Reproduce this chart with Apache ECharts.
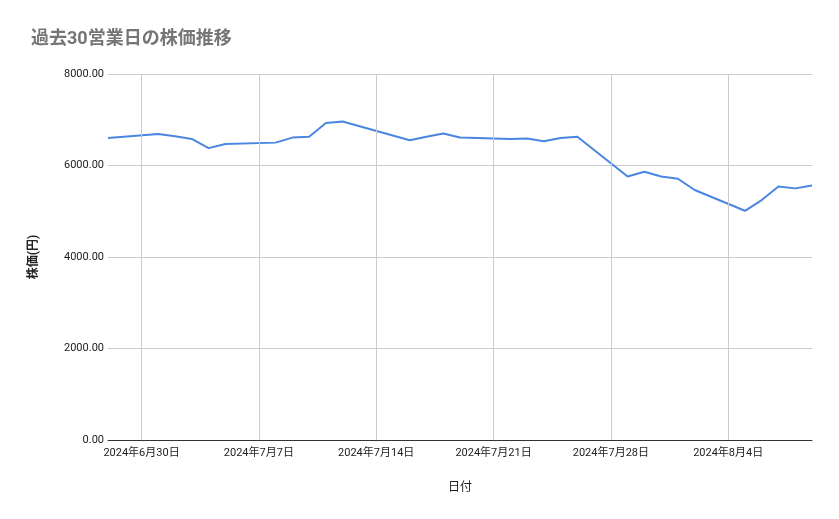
<!DOCTYPE html>
<html><head><meta charset="utf-8">
<script src="https://cdn.jsdelivr.net/npm/echarts@6/dist/echarts.min.js"></script>
<style>html,body{margin:0;background:#fff}#c{width:839px;height:519px}</style>
</head><body><div id="c"></div>
<script>
const dates = ["2024-06-28","2024-07-01","2024-07-02","2024-07-03","2024-07-04","2024-07-05","2024-07-08","2024-07-09","2024-07-10","2024-07-11","2024-07-12","2024-07-16","2024-07-17","2024-07-18","2024-07-19","2024-07-22","2024-07-23","2024-07-24","2024-07-25","2024-07-26","2024-07-29","2024-07-30","2024-07-31","2024-08-01","2024-08-02","2024-08-05","2024-08-06","2024-08-07","2024-08-08","2024-08-09"];
const prices = [6600,6690,6640,6580,6380,6470,6500,6610,6630,6930,6960,6550,6630,6700,6610,6580,6590,6530,6600,6630,5760,5865,5760,5710,5465,5010,5245,5540,5500,5565];
const tickDates = ["2024-06-30","2024-07-07","2024-07-14","2024-07-21","2024-07-28","2024-08-04"];
const yTicks = [0,2000,4000,6000,8000];

const base = Date.UTC(2024,5,28);
const dayOf = s => Math.round((Date.parse(s+"T00:00:00Z")-base)/86400000);
const fmt = s => { const d=new Date(s+"T00:00:00Z"); return d.getUTCFullYear()+"年"+(d.getUTCMonth()+1)+"月"+d.getUTCDate()+"日"; };
const tickVals = tickDates.map(dayOf);
const labelMap = {}; tickDates.forEach(s=>labelMap[dayOf(s)]=fmt(s));
const font = "Roboto, 'Noto Sans CJK JP', sans-serif";

const chart = echarts.init(document.getElementById('c'));
chart.setOption({
  animation:false,
  title:{text:'過去30営業日の株価推移',left:26,top:26,textStyle:{fontFamily:font,fontSize:18,fontWeight:'bold',color:'#757575'}},
  grid:{left:108,right:27,top:74,bottom:79},
  xAxis:{type:'value',min:0,max:dayOf("2024-08-09"),
    name:'日付',nameLocation:'middle',nameGap:42,nameTextStyle:{fontFamily:font,fontSize:12,color:'#222'},
    axisLine:{show:true,lineStyle:{color:'#333'}},axisTick:{show:false},splitLine:{show:false},
    axisLabel:{customValues:tickVals,formatter:v=>labelMap[v]||'',fontFamily:font,fontSize:11,color:'#222',margin:8}},
  yAxis:{type:'value',min:0,max:8000,interval:2000,
    name:'株価(円)',nameLocation:'middle',nameGap:68,nameRotate:90,nameTextStyle:{fontFamily:font,fontSize:12,fontWeight:'bold',color:'#222'},
    axisLine:{show:false},axisTick:{show:false},
    splitLine:{lineStyle:{color:'#cccccc'}},
    axisLabel:{formatter:v=>v.toFixed(2),fontFamily:font,fontSize:11,color:'#222',margin:4}},
  series:[{type:'line',data:dates.map((d,i)=>[dayOf(d),prices[i]]),showSymbol:false,
    lineStyle:{color:'#4a86e0',width:2},itemStyle:{color:'#4a86e0'},
    markLine:{silent:true,symbol:'none',label:{show:false},lineStyle:{color:'#cccccc',type:'solid',width:1},
      data:tickVals.map(v=>({xAxis:v}))}}]
});
</script></body></html>
